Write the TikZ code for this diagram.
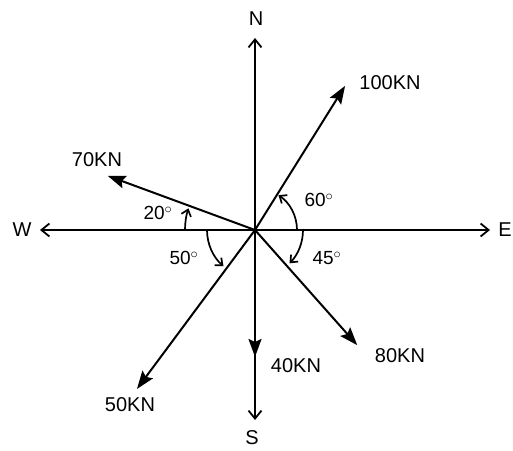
\documentclass[tikz,border=0pt]{standalone}
\usepackage{fontspec}
\setmainfont{Liberation Sans}
\usetikzlibrary{arrows.meta,calc}
\begin{document}
\begin{tikzpicture}[x=1pt,y=1pt,
  axis/.style={line width=1.8pt,-{Straight Barb[length=8pt,width=13pt,line width=1.8pt]}},
  force/.style={line width=2pt,-{Stealth[length=18pt,width=13pt,inset=3pt]}},
  angarc/.style={line width=1.7pt,-{Straight Barb[length=6pt,width=10pt,line width=1.7pt]}},
  lbl/.style={font=\fontsize{20}{20}\selectfont, inner sep=1pt},
  ang/.style={font=\fontsize{19}{19}\selectfont, inner sep=1pt}]
\useasboundingbox (0,0) rectangle (513,450);
\coordinate (O) at (255,220);
% axes
\coordinate (Ntip) at (255,412);
\coordinate (Stip) at (255,30);
\coordinate (Wtip) at (40,220);
\coordinate (Etip) at (490,220);
\node[lbl] (N) at (256,431) {N};
\node[lbl] (S) at (252,12) {S};
\node[lbl] (W) at (22,220) {W};
\node[lbl] (E) at (505,220) {E};
\draw[axis] (O) -- (Ntip);
\draw[axis] (O) -- (Stip);
\draw[axis] (O) -- (Wtip);
\draw[axis] (O) -- (Etip);
% forces
\coordinate (F100) at ($(O)+(58:170)$);
\coordinate (F70) at ($(O)+(159.8:157)$);
\coordinate (F50) at ($(O)+(233.4:198)$);
\coordinate (F80) at ($(O)+(-48.4:154)$);
\coordinate (F40) at (255,93);
\draw[force] (O) -- (F100);
\draw[force] (O) -- (F70);
\draw[force] (O) -- (F50);
\draw[force] (O) -- (F80);
\draw[force] (O) -- (F40);
\node[lbl] (L100) at (390,367) {100KN};
\node[lbl] (L70) at (97,290) {70KN};
\node[lbl] (L50) at (130,45) {50KN};
\node[lbl] (L40) at (296,84) {40KN};
\node[lbl] (L80) at (400,94) {80KN};
% angle arcs
\draw[angarc] ($(O)+(0:42)$) arc (0:56:42);
\draw[angarc] ($(O)+(180:70)$) arc (180:162:70);
\draw[angarc] ($(O)+(180:48)$) arc (180:229:48);
\draw[angarc] ($(O)+(0:48)$) arc (0:-44:48);
\node[ang] (A60) at (319,250) {60$^\circ$};
\node[ang] (A20) at (158,237) {20$^\circ$};
\node[ang] (A50) at (184,192) {50$^\circ$};
\node[ang] (A45) at (327,192) {45$^\circ$};
\end{tikzpicture}
\end{document}
